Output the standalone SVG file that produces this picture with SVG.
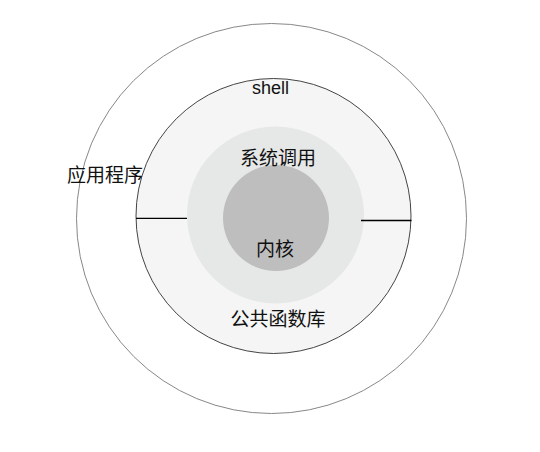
<svg xmlns="http://www.w3.org/2000/svg" width="540" height="452" viewBox="0 0 540 452">
<style>
text{font-family:"Noto Sans CJK SC","Liberation Sans",sans-serif;font-size:19px;fill:#111;text-anchor:middle}
.lat{font-family:"Liberation Sans",Arial,sans-serif;font-size:18px}
.ln{stroke:#000;stroke-width:1.3}
</style>
<rect width="540" height="452" fill="#fff"/>
<g id="app"><circle cx="271.5" cy="218.5" r="195" fill="#fff" stroke="#888" stroke-width="1"/></g>
<g id="shell"><circle cx="273.5" cy="216" r="137.5" fill="#f4f5f4" stroke="#444" stroke-width="1"/></g>
<g id="syscall"><circle cx="275.5" cy="215" r="88.5" fill="#e6e7e7"/></g>
<g id="kernel"><circle cx="276" cy="218" r="53" fill="#bebebe"/></g>
<g id="connectors">
<line class="ln" x1="136" y1="218.3" x2="187" y2="218.3"/>
<line class="ln" x1="361" y1="220.5" x2="411.5" y2="220.5"/>
</g>
<g id="labels">
<text class="lat" x="270.5" y="94">shell</text>
<text x="278" y="165">系统调用</text>
<text x="275" y="256">内核</text>
<text x="278" y="326">公共函数库</text>
<text x="105" y="182">应用程序</text>
</g>
</svg>
